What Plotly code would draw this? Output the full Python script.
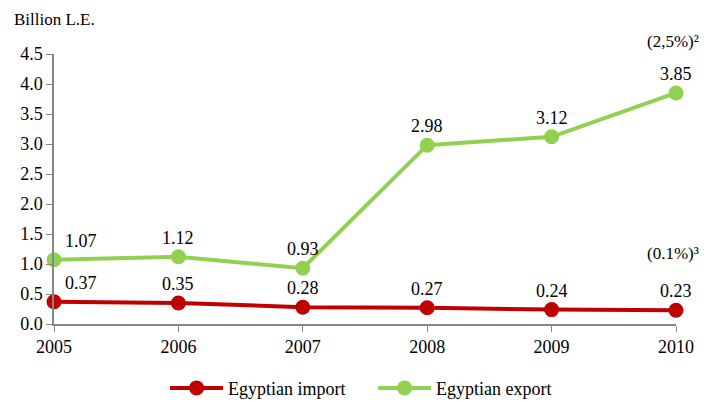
import plotly.graph_objects as go

years = [2005, 2006, 2007, 2008, 2009, 2010]
egypt_import = [0.37, 0.35, 0.28, 0.27, 0.24, 0.23]
egypt_export = [1.07, 1.12, 0.93, 2.98, 3.12, 3.85]
y_ticks = [0.0, 0.5, 1.0, 1.5, 2.0, 2.5, 3.0, 3.5, 4.0, 4.5]

RED = '#C00000'
GREEN = '#92D050'
FONT = 'Liberation Serif'

fig = go.Figure()

fig.add_trace(go.Scatter(
    x=years, y=egypt_import, name='Egyptian import',
    mode='lines+markers', line=dict(color=RED, width=4),
    marker=dict(color=RED, size=15), cliponaxis=False))
fig.add_trace(go.Scatter(
    x=years, y=egypt_export, name='Egyptian export',
    mode='lines+markers', line=dict(color=GREEN, width=4),
    marker=dict(color=GREEN, size=15), cliponaxis=False))

annotations = []
for series in (egypt_import, egypt_export):
    for i, (yr, v) in enumerate(zip(years, series)):
        annotations.append(dict(
            x=yr, y=v, text=f"{v:.2f}", showarrow=False,
            xshift=27 if i == 0 else 0, yshift=19,
            font=dict(size=18, color='#000000', family=FONT)))

# share notes above the 2010 values
annotations.append(dict(x=2010, y=egypt_export[-1], text='(2,5%)²',
                        showarrow=False, yshift=52, xshift=-3,
                        font=dict(size=17, color='#000000', family=FONT)))
annotations.append(dict(x=2010, y=egypt_import[-1], text='(0.1%)³',
                        showarrow=False, yshift=57, xshift=-3,
                        font=dict(size=17, color='#000000', family=FONT)))
annotations.append(dict(xref='paper', yref='paper', x=-0.067, y=1.126,
                        xanchor='left', yanchor='middle', text='Billion L.E.',
                        showarrow=False,
                        font=dict(size=17, color='#000000', family=FONT)))

fig.update_layout(
    width=701, height=394,
    margin=dict(l=43, r=33, t=46, b=78),
    paper_bgcolor='white', plot_bgcolor='white',
    font=dict(family=FONT, size=18, color='#000000'),
    showlegend=True,
    legend=dict(orientation='h', x=0.513, xanchor='center',
                yref='container', y=0.035, yanchor='middle',
                font=dict(size=18), itemwidth=53, entrywidth=140),
    annotations=annotations,
)

fig.update_xaxes(range=[2005, 2010], tickvals=years, showgrid=False,
                 showline=True, linecolor='#868686', linewidth=1.5,
                 ticks='outside', tickcolor='#868686', ticklen=6,
                 zeroline=False, tickfont=dict(size=18))
fig.update_yaxes(range=[0, 4.5], tickvals=y_ticks,
                 ticktext=[f"{t:.1f}" for t in y_ticks], showgrid=False,
                 showline=True, linecolor='#868686', linewidth=1.5,
                 ticks='outside', tickcolor='#868686', ticklen=6,
                 zeroline=False, tickfont=dict(size=18))

fig.write_html("out.html")
